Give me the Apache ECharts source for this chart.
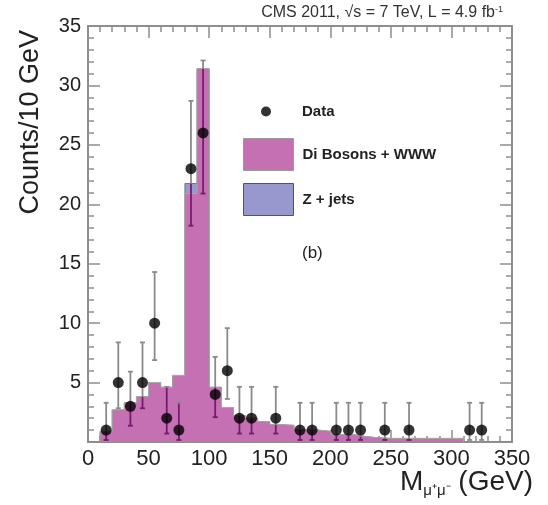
<!DOCTYPE html>
<html>
<head>
<meta charset="utf-8">
<script src="https://cdn.jsdelivr.net/npm/echarts@6/dist/echarts.min.js"></script>
<style>
  html, body { margin: 0; padding: 0; background: #fff; }
  #chart { width: 548px; height: 505px; }
</style>
</head>
<body>
<div id="chart"></div>
<script>
// histogram: lower bin edges (GeV), 10 GeV wide
const binWidth = 10
const binLo = [10, 20, 30, 40, 50, 60, 70, 80, 90, 100, 110, 120, 130, 140, 150,
  160, 170, 180, 190, 200, 210, 220, 230, 240, 250, 260, 270, 280, 290, 300]
const diBosons = [0.9, 2.7, 3.3, 3.8, 5.0, 4.6, 5.6, 20.9, 31.4, 4.6, 2.9, 2.2, 2.0, 1.7, 1.45,
  1.4, 1.05, 1.0, 0.9, 0.6, 0.6, 0.45, 0.35, 0.3, 0.3, 0.3, 0.3, 0.3, 0.3, 0.3]
const zJets = [0, 0, 0, 0, 0, 0, 0, 0.85, 0, 0, 0, 0, 0, 0, 0,
  0, 0, 0, 0, 0, 0, 0, 0, 0, 0, 0, 0, 0, 0, 0]

// data points (bin centre, counts, lower / upper end of error bar)
const dataMass = [15, 25, 35, 45, 55, 65, 75, 85, 95, 105, 115, 125, 135, 155, 175, 185, 205, 215, 225, 245, 265, 315, 325]
const dataCounts = [1, 5, 3, 5, 10, 2, 1, 23, 26, 4, 6, 2, 2, 2, 1, 1, 1, 1, 1, 1, 1, 1, 1]
const errLow = [0.17, 2.84, 1.37, 2.84, 6.89, 0.71, 0.17, 18.2, 20.9, 2.09, 3.62, 0.71, 0.71, 0.71,
  0.17, 0.17, 0.17, 0.17, 0.17, 0.17, 0.17, 0.17, 0.17]
const errHigh = [3.3, 8.38, 5.92, 8.38, 14.3, 4.64, 3.3, 28.7, 32.1, 7.16, 9.58, 4.64, 4.64, 4.64,
  3.3, 3.3, 3.3, 3.3, 3.3, 3.3, 3.3, 3.3, 3.3]

const xTicks = { min: 0, max: 350, interval: 50 }
const yTicks = { min: 0, max: 35, interval: 5 }

const FONT = '"Liberation Sans", Arial, Helvetica, sans-serif'
const PINK = '#c570b2'
const BLUE = '#9898cf'
const FRAME = '#8e8e8e'
const BAR_IN = '#761c70'
const BAR_OUT = '#8a8a8a'

function stepPoints (vals) {
  const pts = [[binLo[0], 0]]
  binLo.forEach((lo, i) => pts.push([lo, vals[i]]))
  pts.push([binLo[binLo.length - 1] + binWidth, 0])
  return pts
}

// Z + jets sits on top of the di-boson histogram
const mcTotal = diBosons.map((v, i) => v + zJets[i])

function histTop (m) {
  const k = binLo.findIndex(lo => m >= lo && m < lo + binWidth)
  return k < 0 ? 0 : mcTotal[k]
}

const errData = dataMass.map((m, i) => [m, errLow[i], errHigh[i], histTop(m)])
const pointData = dataMass.map((m, i) => [m, dataCounts[i]])

function axisX (pos, labels) {
  return {
    type: 'value',
    position: pos,
    min: xTicks.min,
    max: xTicks.max,
    interval: xTicks.interval,
    axisLine: { show: true, onZero: false, lineStyle: { color: FRAME, width: 2 } },
    axisTick: { show: true, inside: true, length: 12, lineStyle: { color: FRAME, width: 1.5 } },
    minorTick: { show: true, splitNumber: 5, length: 6, lineStyle: { color: FRAME, width: 1.5 } },
    splitLine: { show: false },
    axisLabel: { show: labels, fontSize: 22, color: '#222', fontFamily: FONT, margin: 6 }
  }
}

function axisY (pos, labels) {
  return {
    type: 'value',
    position: pos,
    min: yTicks.min,
    max: yTicks.max,
    interval: yTicks.interval,
    axisLine: { show: true, onZero: false, lineStyle: { color: FRAME, width: 2 } },
    axisTick: { show: true, inside: true, length: 12, lineStyle: { color: FRAME, width: 1.5 } },
    minorTick: { show: true, splitNumber: 5, length: 6, lineStyle: { color: FRAME, width: 1.5 } },
    splitLine: { show: false },
    axisLabel: { show: labels, showMinLabel: false, fontSize: 20, color: '#222', fontFamily: FONT, margin: 7 }
  }
}

const xBottom = axisX('bottom', true)
xBottom.name = '{m|M}{s|μ⁺μ⁻}{m| (GeV)}'
xBottom.nameLocation = 'end'
xBottom.nameGap = 21
xBottom.nameMoveOverlap = false
xBottom.nameTextStyle = {
  align: 'right',
  verticalAlign: 'top',
  padding: [24, 0, 0, 0],
  rich: {
    m: { fontSize: 28, color: '#222', fontFamily: FONT, lineHeight: 32 },
    s: { fontSize: 15, color: '#222', fontFamily: FONT, verticalAlign: 'bottom', lineHeight: 18 }
  }
}

const yLeft = axisY('left', true)
yLeft.name = 'Counts/10 GeV'
yLeft.nameLocation = 'end'
yLeft.nameRotate = 90
yLeft.nameGap = -4
yLeft.nameMoveOverlap = false
yLeft.nameTextStyle = {
  fontSize: 27,
  color: '#222',
  fontFamily: FONT,
  align: 'right',
  verticalAlign: 'bottom',
  padding: [0, 0, 44, 0]
}

const chart = echarts.init(document.getElementById('chart'))
chart.setOption({
  animation: false,
  backgroundColor: '#fff',
  title: {
    text: '{a|CMS 2011, √s = 7 TeV, L = 4.9 fb}{sup|-1}',
    right: 45,
    top: 5,
    padding: 0,
    textStyle: {
      fontWeight: 'normal',
      rich: {
        a: { fontSize: 16, fontWeight: 'normal', color: '#333', fontFamily: FONT },
        sup: { fontSize: 9, fontWeight: 'normal', color: '#333', fontFamily: FONT, verticalAlign: 'top', lineHeight: 12 }
      }
    }
  },
  grid: { left: 88, top: 26, width: 424, height: 416, containLabel: false },
  xAxis: [xBottom, axisX('top', false)],
  yAxis: [yLeft, axisY('right', false)],
  legend: [
    {
      data: ['Data'],
      left: 261,
      top: 104,
      padding: 0,
      icon: 'circle',
      itemWidth: 10,
      itemHeight: 10,
      selectedMode: false,
      textStyle: { fontSize: 15, fontWeight: 'bold', color: '#222', fontFamily: FONT, padding: [0, 0, 0, 26] }
    },
    {
      data: [
        { name: 'Di Bosons + WWW', itemStyle: { borderColor: '#999', borderWidth: 1 } },
        { name: 'Z + jets', itemStyle: { borderColor: '#555', borderWidth: 1 } }
      ],
      orient: 'vertical',
      left: 243,
      top: 138,
      padding: 0,
      icon: 'rect',
      itemWidth: 50,
      itemHeight: 32,
      itemGap: 12,
      selectedMode: false,
      textStyle: { fontSize: 15, fontWeight: 'bold', color: '#222', fontFamily: FONT, padding: [0, 0, 0, 4] }
    }
  ],
  graphic: [
    { type: 'text', left: 302, top: 245, style: { text: '(b)', fontSize: 17, fill: '#222', font: '17px ' + FONT } }
  ],
  series: [
    {
      name: 'Z + jets',
      type: 'line',
      step: 'end',
      symbol: 'none',
      z: 2,
      itemStyle: { color: BLUE },
      lineStyle: { color: '#777', width: 1 },
      areaStyle: { color: BLUE, opacity: 1 },
      data: stepPoints(mcTotal)
    },
    {
      name: 'Di Bosons + WWW',
      type: 'line',
      step: 'end',
      symbol: 'none',
      z: 2,
      itemStyle: { color: PINK },
      lineStyle: { color: '#a9a9a9', width: 1 },
      areaStyle: { color: PINK, opacity: 1 },
      data: stepPoints(diBosons)
    },
    {
      name: 'Data errors',
      type: 'custom',
      z: 3,
      silent: true,
      data: errData,
      renderItem (params, api) {
        const x = api.value(0)
        const lo = api.value(1)
        const hi = api.value(2)
        const top = api.value(3)
        const split = Math.min(Math.max(top, lo), hi)
        const a = api.coord([x, lo])
        const b = api.coord([x, split])
        const c = api.coord([x, hi])
        const cap = 2.5
        const kids = []
        const seg = (p, q, col) => ({
          type: 'line',
          shape: { x1: p[0], y1: p[1], x2: q[0], y2: q[1] },
          style: { stroke: col, lineWidth: 1.8 }
        })
        if (b[1] < a[1] - 0.5) kids.push(seg(a, b, BAR_IN))
        if (c[1] < b[1] - 0.5) kids.push(seg(b, c, BAR_OUT))
        kids.push(seg([c[0] - cap, c[1]], [c[0] + cap, c[1]], BAR_OUT))
        kids.push(seg([a[0] - cap, a[1]], [a[0] + cap, a[1]], lo < top ? BAR_IN : BAR_OUT))
        return { type: 'group', children: kids }
      }
    },
    {
      name: 'Data',
      type: 'scatter',
      z: 4,
      symbol: 'circle',
      symbolSize: 11,
      itemStyle: { color: '#000' },
      data: pointData
    }
  ]
})
</script>
</body>
</html>
